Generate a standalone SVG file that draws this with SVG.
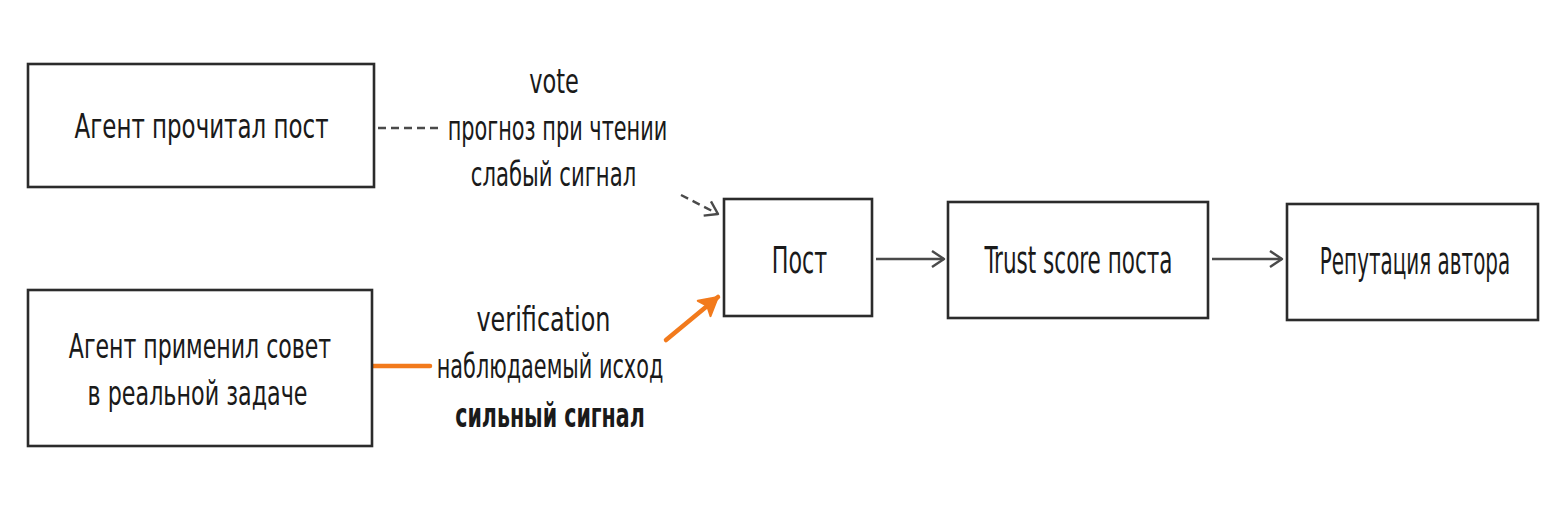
<svg xmlns="http://www.w3.org/2000/svg" width="1560" height="525" viewBox="0 0 1560 525">
<style>
.box{fill:#ffffff;stroke:#2b2b2b;stroke-width:2.6}
.t{font-family:"DejaVu Sans Condensed","DejaVu Sans",sans-serif;font-stretch:condensed;font-size:33px;fill:#1a1a1a;text-anchor:middle}
.big{font-size:37px}
.b{font-weight:bold}
.gray{stroke:#4a4a4a;stroke-width:2.4;fill:none}
.dash{stroke-dasharray:8 5}
.or{stroke:#f27a1c;stroke-width:4.5;fill:none;stroke-linecap:round}
</style>
<defs>
<marker id="ag" viewBox="0 0 14 18" refX="13" refY="9" markerWidth="14" markerHeight="18" markerUnits="userSpaceOnUse" orient="auto" style="overflow:visible">
<path d="M1,1 L13,9 L1,17" fill="none" stroke="#4a4a4a" stroke-width="2.4" stroke-linejoin="round"/>
</marker>
<marker id="ao" viewBox="0 0 20 22" refX="19" refY="11" markerWidth="20" markerHeight="22" markerUnits="userSpaceOnUse" orient="auto" style="overflow:visible">
<path d="M1,1 L19,11 L1,21 L5,11 Z" fill="#f27a1c" stroke="#f27a1c" stroke-width="2" stroke-linejoin="round"/>
</marker>
</defs>
<rect width="1560" height="525" fill="#ffffff"/>
<g id="connectors">
<line class="gray dash" x1="378" y1="128" x2="440" y2="128"/>
<path class="gray dash" d="M681,195 L718,214" marker-end="url(#ag)"/>
<line class="or" x1="372" y1="366" x2="430" y2="366"/>
<path class="or" d="M666,340 L718,297" marker-end="url(#ao)"/>
<path class="gray" d="M876,259 L944,259" marker-end="url(#ag)"/>
<path class="gray" d="M1212,259 L1282,259" marker-end="url(#ag)"/>
<text class="t" transform="translate(554,93) scale(0.757,1)">vote</text>
<text class="t" transform="translate(557.5,140) scale(0.702,1)">прогноз при чтении</text>
<text class="t" transform="translate(553.5,186) scale(0.714,1)">слабый сигнал</text>
<text class="t" transform="translate(543.5,331) scale(0.806,1)">verification</text>
<text class="t" transform="translate(550,378) scale(0.701,1)">наблюдаемый исход</text>
<text class="t b" transform="translate(550,427) scale(0.693,1)">сильный сигнал</text>
</g>
<g id="n1"><rect class="box" x="28" y="64" width="346" height="123"/><text class="t" transform="translate(201.5,138) scale(0.773,1)">Агент прочитал пост</text></g>
<g id="n2"><rect class="box" x="28" y="290" width="344" height="156"/><text class="t" transform="translate(200,358) scale(0.743,1)">Агент применил совет</text><text class="t" transform="translate(197.5,405) scale(0.75,1)">в реальной задаче</text></g>
<g id="n3"><rect class="box" x="724" y="199" width="148" height="117"/><text class="t big" transform="translate(799.5,273) scale(0.667,1)">Пост</text></g>
<g id="n4"><rect class="box" x="948" y="202" width="260" height="116"/><text class="t big" transform="translate(1078.5,273) scale(0.647,1)">Trust score поста</text></g>
<g id="n5"><rect class="box" x="1287" y="204" width="251" height="116"/><text class="t big" transform="translate(1415,274) scale(0.599,1)">Репутация автора</text></g>
</svg>
